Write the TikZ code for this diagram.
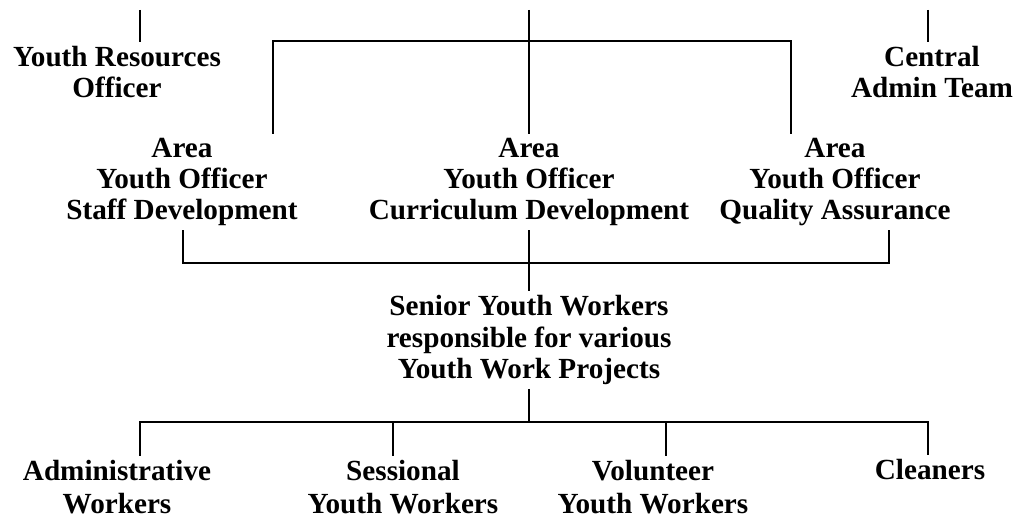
\documentclass[tikz,border=0pt]{standalone}
\usepackage{fontspec}
\setmainfont{Liberation Serif}
\usepackage{tikz}
\usetikzlibrary{positioning,calc}

\begin{document}
\begin{tikzpicture}[x=0.5pt,y=-0.5pt,
    post/.style={font=\fontsize{14.6}{15.6}\selectfont\bfseries, align=center, inner sep=2pt},
    link/.style={line width=1.1pt}]
    \useasboundingbox (0,0) rectangle (1023,523);

    % Top row
    \node [post] (yro) at (117,72) {Youth Resources\\Officer};
    \node [post] (cat) at (932,72) {Central\\Admin Team};

    % Area youth officers
    \node [post] (asd) at (182,182) {Area\\Youth Officer\\Staff Development};
    \node [post] (acd) at (529,182) {Area\\Youth Officer\\Curriculum Development};
    \node [post] (aqa) at (835,182) {Area\\Youth Officer\\Quality Assurance};

    \node [post] (syw) at (529,340) {Senior Youth Workers\\responsible for various\\Youth Work Projects};

    % Workers
    \node [post, font=\fontsize{14.6}{16.4}\selectfont\bfseries] (adm) at (117,487) {Administrative\\Workers};
    \node [post, font=\fontsize{14.6}{16.4}\selectfont\bfseries] (ses) at (403,487) {Sessional\\Youth Workers};
    \node [post, font=\fontsize{14.6}{16.4}\selectfont\bfseries] (vol) at (653,487) {Volunteer\\Youth Workers};
    \node [post] (cln) at (930,470) {Cleaners};

    % Free ends and bends
    \coordinate (yrotop) at (140,10);
    \coordinate (hqtop) at (529,10);
    \coordinate (cattop) at (928,10);
    \coordinate (tl) at (273,41);
    \coordinate (tr) at (791,41);
    \coordinate (bl) at (183,263);
    \coordinate (br) at (889,263);
    \coordinate (ll) at (140,422);
    \coordinate (lr) at (928,422);
    \coordinate (sx) at (393,422);
    \coordinate (vx) at (666,422);

    % Top links
    \draw [link] (yrotop) -- (yrotop |- yro.north);
    \draw [link] (cattop) -- (cattop |- cat.north);
    \draw [link] (hqtop) -- (acd.north);
    \draw [link] (tl |- asd.north) -- (tl) -- (tr) -- (tr |- aqa.north);

    % Area to senior
    \draw [link] (bl |- asd.south) -- (bl) -- (br) -- (br |- aqa.south);
    \draw [link] (acd.south) -- (syw.north);

    % Senior to workers
    \draw [link] (syw.south) -- (syw.south |- ll);
    \draw [link] (ll |- adm.north) -- (ll) -- (lr) -- (lr |- cln.north);
    \draw [link] (sx) -- (sx |- ses.north);
    \draw [link] (vx) -- (vx |- vol.north);
\end{tikzpicture}
\end{document}
